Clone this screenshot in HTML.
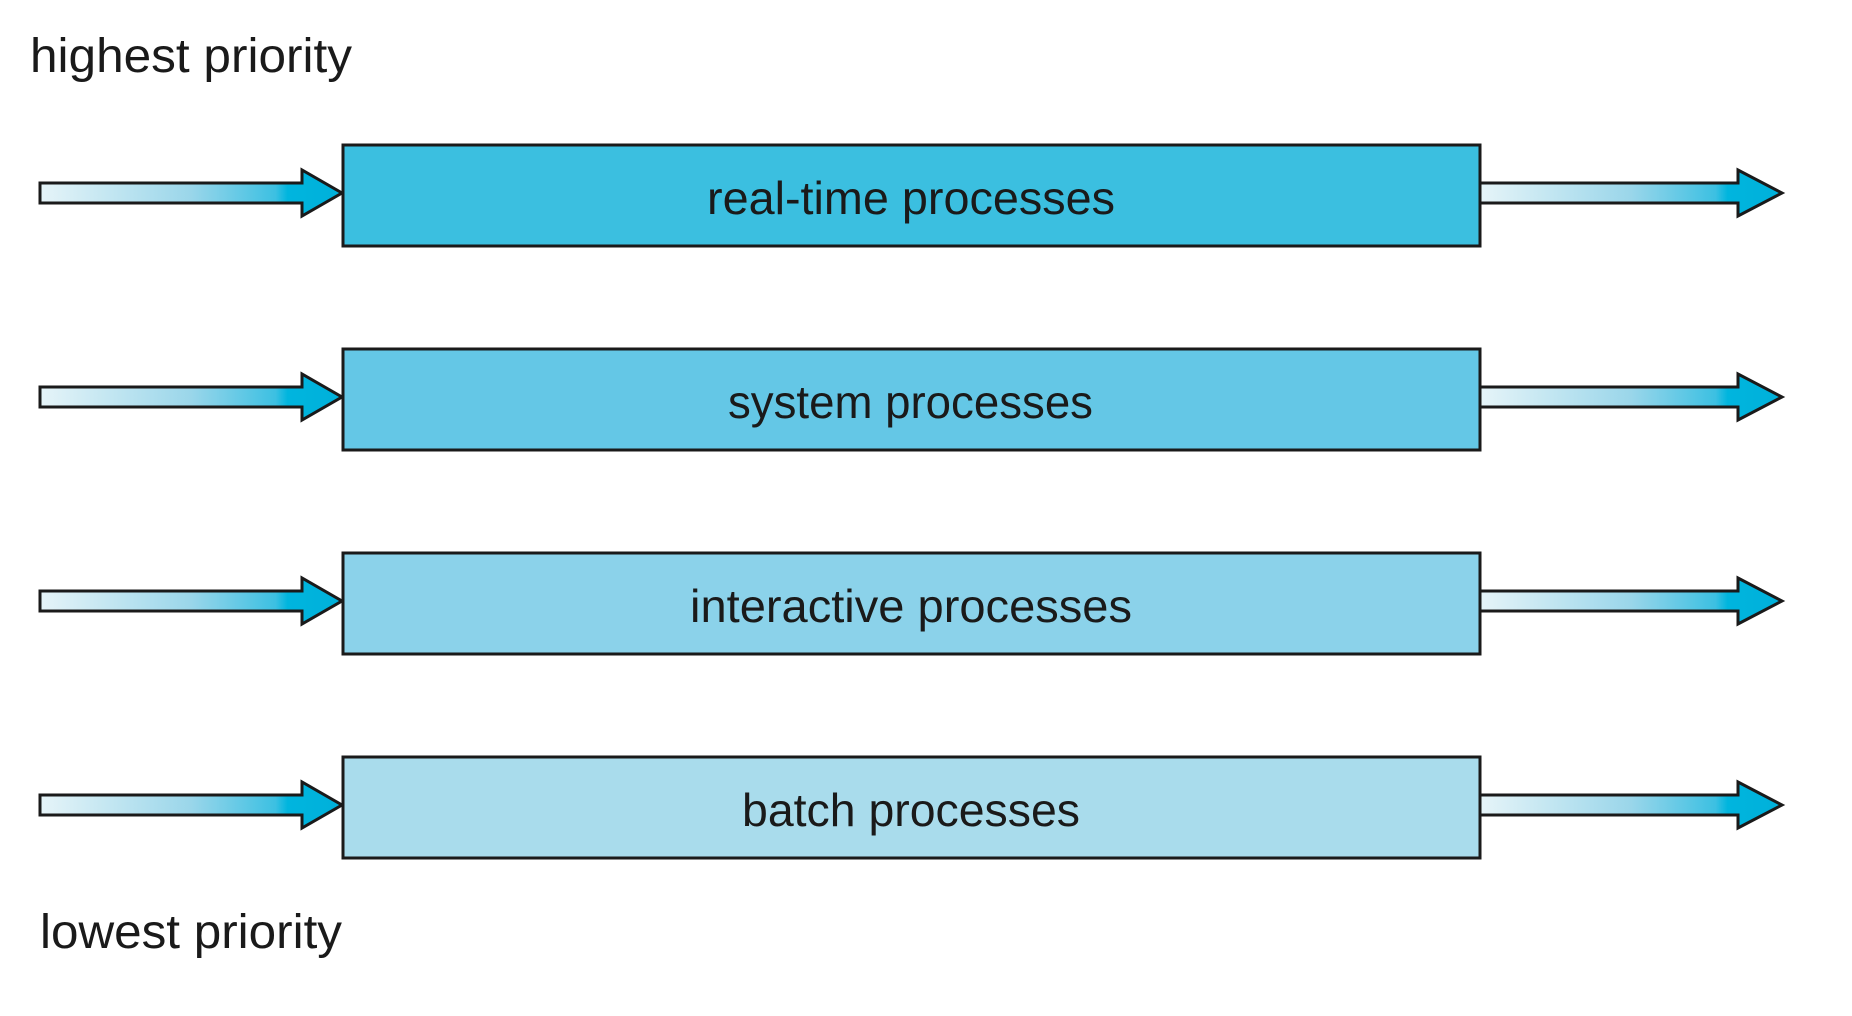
<!DOCTYPE html>
<html><head><meta charset="utf-8"><style>html,body{margin:0;padding:0;background:#fff}svg{display:block}</style></head>
<body>
<svg width="1852" height="1016" viewBox="0 0 1852 1016" xmlns="http://www.w3.org/2000/svg">
<defs>
<linearGradient id="g" x1="0" y1="0" x2="1" y2="0">
<stop offset="0" stop-color="#e6f4f8"/>
<stop offset="0.5" stop-color="#9ad6ea"/>
<stop offset="0.78" stop-color="#3cc0e2"/>
<stop offset="0.82" stop-color="#00b5de"/>
<stop offset="1" stop-color="#00b0da"/>
</linearGradient>
</defs>
<g font-family="Liberation Sans, sans-serif" fill="#1a1a1a">
<text x="30" y="72" font-size="48" textLength="322" lengthAdjust="spacingAndGlyphs">highest priority</text>
<text x="40" y="948" font-size="48" textLength="302" lengthAdjust="spacingAndGlyphs">lowest priority</text>
</g>
<g stroke="#1a1a1a" stroke-width="3" stroke-linejoin="miter">
<g id="r1">
<path d="M40,183 H302 V170 L342,193 L302,216 V203 H40 Z" fill="url(#g)"/>
<path d="M1480,183 H1738 V170 L1782,193 L1738,216 V203 H1480 Z" fill="url(#g)"/>
</g>
<use href="#r1" y="204"/>
<use href="#r1" y="408"/>
<use href="#r1" y="612"/>
<rect x="343" y="145" width="1137" height="101" fill="#3bbfe0"/>
<rect x="343" y="349" width="1137" height="101" fill="#64c7e6"/>
<rect x="343" y="553" width="1137" height="101" fill="#8bd2ea"/>
<rect x="343" y="757" width="1137" height="101" fill="#a9dcec"/>
</g>
<g font-family="Liberation Sans, sans-serif" fill="#1a1a1a" font-size="46">
<text x="707" y="214" textLength="408" lengthAdjust="spacingAndGlyphs">real-time processes</text>
<text x="728" y="418" textLength="365" lengthAdjust="spacingAndGlyphs">system processes</text>
<text x="690" y="622" textLength="442" lengthAdjust="spacingAndGlyphs">interactive processes</text>
<text x="742" y="826" textLength="338" lengthAdjust="spacingAndGlyphs">batch processes</text>
</g>
</svg>
</body></html>
